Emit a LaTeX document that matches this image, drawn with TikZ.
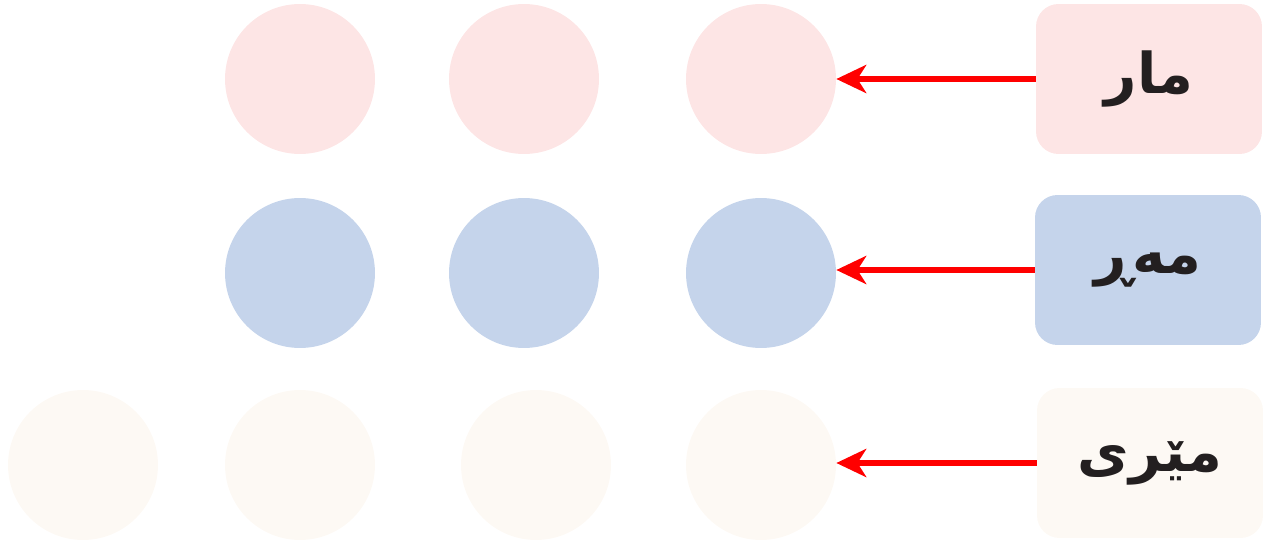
\documentclass[tikz,border=0pt]{standalone}
\usepackage{fontspec}
\newfontfamily\arabicfont[Script=Arabic]{DejaVu Sans}
\TeXXeTstate=1
\usetikzlibrary{arrows.meta}
\definecolor{rowpink}{HTML}{FDE5E5}
\definecolor{rowblue}{HTML}{C5D4EB}
\definecolor{rowcream}{HTML}{FDF9F4}
\definecolor{wordink}{HTML}{231F20}
\tikzset{
  dot/.style={circle,fill=#1,minimum size=3cm,inner sep=0pt},
  wordbox/.style={rounded corners=0.45cm,fill=#1,minimum width=4.52cm,minimum height=3cm,
    inner sep=0pt,text=wordink,font=\arabicfont\bfseries\fontsize{32}{38}\selectfont},
  pointer/.style={-{Stealth[length=17pt,width=16pt,inset=5pt]},red,line width=3pt}
}
\begin{document}
\begin{tikzpicture}[x=0.02cm,y=-0.02cm]
  \useasboundingbox (0,0) rectangle (1272,544);
  % row one
  \node[dot=rowpink] (p1) at (300,79) {};
  \node[dot=rowpink] (p2) at (524,79) {};
  \node[dot=rowpink] (p3) at (761,79) {};
  \node[wordbox=rowpink] (mar) at (1149,79) {\beginR مار\endR};
  % row two
  \node[dot=rowblue] (b1) at (300,273) {};
  \node[dot=rowblue] (b2) at (524,273) {};
  \node[dot=rowblue] (b3) at (761,273) {};
  \node[wordbox=rowblue] (mar2) at (1148,270) {\beginR مەڕ\endR};
  % row three
  \node[dot=rowcream] (c0) at (83,465) {};
  \node[dot=rowcream] (c1) at (300,465) {};
  \node[dot=rowcream] (c2) at (536,465) {};
  \node[dot=rowcream] (c3) at (761,465) {};
  \node[wordbox=rowcream] (meri) at (1150,463) {\beginR مێری\endR};
  % arrows
  \draw[pointer] (mar.west) -- (mar.west -| p3.east);
  \draw[pointer] (mar2.west) -- (mar2.west -| b3.east);
  \draw[pointer] (meri.west) -- (meri.west -| c3.east);
\end{tikzpicture}
\end{document}
